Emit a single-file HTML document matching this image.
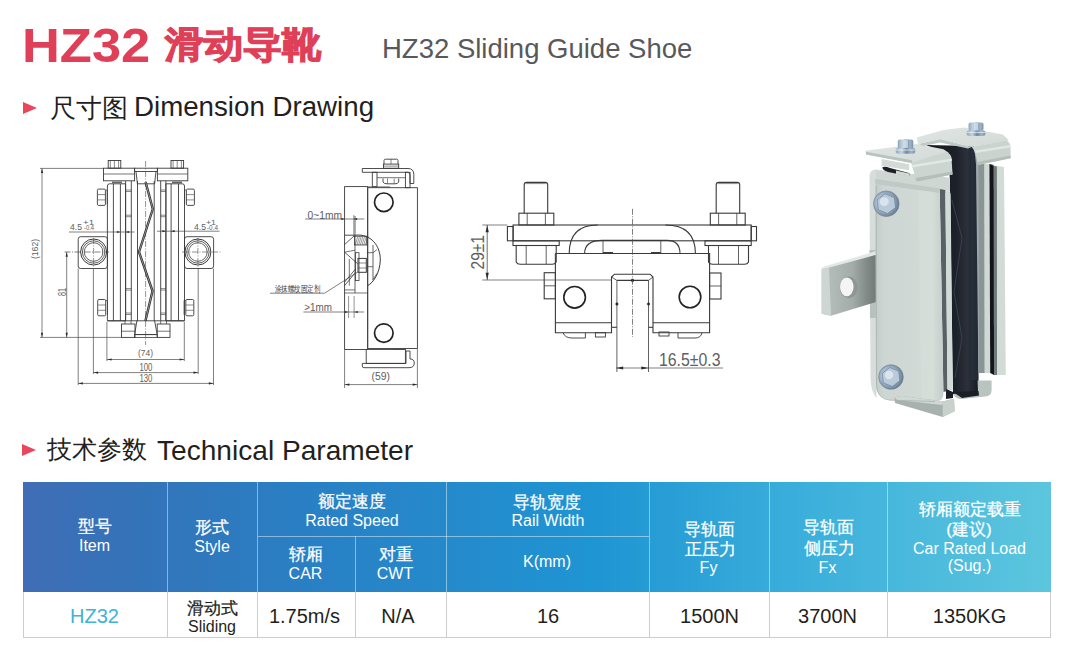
<!DOCTYPE html>
<html><head><meta charset="utf-8">
<style>
html,body{margin:0;padding:0;background:#fff;}
body{width:1073px;height:650px;position:relative;overflow:hidden;font-family:"Liberation Sans",sans-serif;}
.a{position:absolute;white-space:nowrap;line-height:1;}
.tri{position:absolute;width:0;height:0;border-top:6.5px solid transparent;border-bottom:6.5px solid transparent;border-left:14px solid #e8475c;}
#thead{position:absolute;left:23px;top:482px;width:1028px;height:110px;
 background:linear-gradient(90deg,#3f6db6 0%,#3374b9 12%,#2a7fc4 27%,#1f95d3 56%,#3aaedb 75%,#5dc6de 100%);}
.vl{position:absolute;width:1px;background:rgba(255,255,255,0.45);}
.hl{position:absolute;height:1px;background:rgba(255,255,255,0.45);}
.c{position:absolute;text-align:center;color:#fff;line-height:1;}
.cj{font-size:16px;}
.en{font-size:15px;}
.gl{position:absolute;background:#cdcdcd;}
.L{position:absolute;text-align:center;white-space:nowrap;line-height:1;}
.cell{position:absolute;text-align:center;color:#231f20;font-size:20px;line-height:1;}
</style></head><body>

<div class="a" style="left:21.5px;top:21px;font-size:49px;font-weight:bold;color:#df4058;transform:scaleX(1.07);transform-origin:0 0">HZ32</div>
<div class="a" style="left:165px;top:24.5px;font-size:39px;font-weight:700;color:#df4058;-webkit-text-stroke:1.3px #df4058;transform:scaleY(0.92);transform-origin:0 50%;">滑动导靴</div>
<div class="a" style="left:382px;top:35.3px;font-size:27.5px;color:#58595b;">HZ32 Sliding Guide Shoe</div>

<div class="tri" style="left:23px;top:102px;"></div>
<div class="a" style="left:49.5px;top:94.5px;font-size:26px;color:#231f20;">尺寸图</div>
<div class="a" style="left:134px;top:92.5px;font-size:27.7px;color:#231f20;">Dimension Drawing</div>

<div class="tri" style="left:22px;top:444px;"></div>
<div class="a" style="left:47px;top:437px;font-size:25.3px;color:#231f20;">技术参数</div>
<div class="a" style="left:157px;top:436.5px;font-size:28.1px;color:#231f20;">Technical Parameter</div>

<!-- table header -->
<div id="thead">
  <div class="vl" style="left:144px;top:0;height:110px"></div>
  <div class="vl" style="left:234px;top:0;height:110px"></div>
  <div class="vl" style="left:423px;top:0;height:110px"></div>
  <div class="vl" style="left:626px;top:0;height:110px"></div>
  <div class="vl" style="left:746px;top:0;height:110px"></div>
  <div class="vl" style="left:864px;top:0;height:110px"></div>
  <div class="vl" style="left:332px;top:54px;height:56px"></div>
  <div class="hl" style="left:235px;top:54px;width:391px"></div>
</div>
<!--TL-->
<div class="L" style="left:23.0px;top:518.0px;width:144px;font-size:17px;color:#fff;font-weight:500;-webkit-text-stroke:0.25px #fff">型号</div>
<div class="L" style="left:22.5px;top:538.0px;width:144px;font-size:16px;color:#fff;font-weight:400">Item</div>
<div class="L" style="left:167.0px;top:518.5px;width:89px;font-size:17px;color:#fff;font-weight:500;-webkit-text-stroke:0.25px #fff">形式</div>
<div class="L" style="left:167.5px;top:539.0px;width:89px;font-size:16px;color:#fff;font-weight:400">Style</div>
<div class="L" style="left:257.5px;top:493.0px;width:188px;font-size:17px;color:#fff;font-weight:500;-webkit-text-stroke:0.25px #fff">额定速度</div>
<div class="L" style="left:258.0px;top:513.0px;width:188px;font-size:16px;color:#fff;font-weight:400">Rated Speed</div>
<div class="L" style="left:257.0px;top:546.0px;width:97px;font-size:17px;color:#fff;font-weight:500;-webkit-text-stroke:0.25px #fff">轿厢</div>
<div class="L" style="left:257.0px;top:565.5px;width:97px;font-size:16px;color:#fff;font-weight:400">CAR</div>
<div class="L" style="left:350.5px;top:545.5px;width:90px;font-size:17px;color:#fff;font-weight:500;-webkit-text-stroke:0.25px #fff">对重</div>
<div class="L" style="left:350.0px;top:565.5px;width:90px;font-size:16px;color:#fff;font-weight:400">CWT</div>
<div class="L" style="left:446.0px;top:493.5px;width:202px;font-size:17px;color:#fff;font-weight:500;-webkit-text-stroke:0.25px #fff">导轨宽度</div>
<div class="L" style="left:447.0px;top:513.0px;width:202px;font-size:16px;color:#fff;font-weight:400">Rail Width</div>
<div class="L" style="left:446.0px;top:554.0px;width:202px;font-size:16px;color:#fff;font-weight:400">K(mm)</div>
<div class="L" style="left:649.5px;top:520.5px;width:119px;font-size:17px;color:#fff;font-weight:500;-webkit-text-stroke:0.25px #fff">导轨面</div>
<div class="L" style="left:650.5px;top:541.0px;width:119px;font-size:17px;color:#fff;font-weight:500;-webkit-text-stroke:0.25px #fff">正压力</div>
<div class="L" style="left:649.0px;top:560.0px;width:119px;font-size:16px;color:#fff;font-weight:400">Fy</div>
<div class="L" style="left:769.5px;top:519.0px;width:117px;font-size:17px;color:#fff;font-weight:500;-webkit-text-stroke:0.25px #fff">导轨面</div>
<div class="L" style="left:771.0px;top:540.0px;width:117px;font-size:17px;color:#fff;font-weight:500;-webkit-text-stroke:0.25px #fff">侧压力</div>
<div class="L" style="left:769.0px;top:560.0px;width:117px;font-size:16px;color:#fff;font-weight:400">Fx</div>
<div class="L" style="left:888.5px;top:500.5px;width:162px;font-size:17px;color:#fff;font-weight:500;-webkit-text-stroke:0.25px #fff">轿厢额定载重</div>
<div class="L" style="left:888.0px;top:521.0px;width:162px;font-size:17px;color:#fff;font-weight:500;-webkit-text-stroke:0.25px #fff">(建议)</div>
<div class="L" style="left:888.5px;top:541.0px;width:162px;font-size:16px;color:#fff;font-weight:400">Car Rated Load</div>
<div class="L" style="left:888.5px;top:558.0px;width:162px;font-size:16px;color:#fff;font-weight:400">(Sug.)</div>
<div class="L" style="left:22.5px;top:605.5px;width:144px;font-size:20px;color:#3fb3d8;font-weight:400">HZ32</div>
<div class="L" style="left:168.0px;top:599.5px;width:89px;font-size:17px;color:#231f20;font-weight:500;-webkit-text-stroke:0.25px #231f20">滑动式</div>
<div class="L" style="left:167.5px;top:618.5px;width:89px;font-size:16px;color:#231f20;font-weight:400">Sliding</div>
<div class="L" style="left:256.0px;top:606.0px;width:97px;font-size:20px;color:#231f20;font-weight:400">1.75m/s</div>
<div class="L" style="left:353.0px;top:606.0px;width:90px;font-size:20px;color:#231f20;font-weight:400">N/A</div>
<div class="L" style="left:447.0px;top:605.5px;width:202px;font-size:20px;color:#231f20;font-weight:400">16</div>
<div class="L" style="left:650.0px;top:605.5px;width:119px;font-size:20px;color:#231f20;font-weight:400">1500N</div>
<div class="L" style="left:769.0px;top:605.5px;width:117px;font-size:20px;color:#231f20;font-weight:400">3700N</div>
<div class="L" style="left:888.5px;top:605.5px;width:162px;font-size:20px;color:#231f20;font-weight:400">1350KG</div>
<!--/TL-->
<!-- body row grid -->
<div class="gl" style="left:23px;top:592px;width:1px;height:46px"></div>
<div class="gl" style="left:167px;top:592px;width:1px;height:46px"></div>
<div class="gl" style="left:257px;top:592px;width:1px;height:46px"></div>
<div class="gl" style="left:355px;top:592px;width:1px;height:46px"></div>
<div class="gl" style="left:446px;top:592px;width:1px;height:46px"></div>
<div class="gl" style="left:649px;top:592px;width:1px;height:46px"></div>
<div class="gl" style="left:769px;top:592px;width:1px;height:46px"></div>
<div class="gl" style="left:887px;top:592px;width:1px;height:46px"></div>
<div class="gl" style="left:1050px;top:592px;width:1px;height:46px"></div>
<div class="gl" style="left:23px;top:637px;width:1028px;height:1px"></div>

<!-- DRAWINGS -->
<svg id="d" style="position:absolute;left:0;top:0;font-family:'Liberation Sans',sans-serif" width="1073" height="650" viewBox="0 0 1073 650">
<line x1="40" y1="168.4" x2="103.5" y2="168.4" stroke="#4a4a4a" stroke-width="0.7" />
<line x1="40" y1="337.4" x2="121.5" y2="337.4" stroke="#4a4a4a" stroke-width="0.7" />
<line x1="42" y1="168.4" x2="42" y2="337.4" stroke="#4a4a4a" stroke-width="0.7" />
<path d="M42,168.6 L40.9,173.1 L43.1,173.1 Z" fill="#2a2a2a" stroke="none"/>
<path d="M42,337.2 L40.9,332.7 L43.1,332.7 Z" fill="#2a2a2a" stroke="none"/>
<text x="38" y="249" font-size="9.6" text-anchor="middle" fill="#606060" transform="rotate(-90 38 249)" textLength="20" lengthAdjust="spacingAndGlyphs" >(162)</text>
<line x1="64.5" y1="252" x2="109" y2="252" stroke="#4a4a4a" stroke-width="0.7" stroke-dasharray="6,1.5,1,1.5"/>
<line x1="66.7" y1="252" x2="66.7" y2="337.4" stroke="#4a4a4a" stroke-width="0.7" />
<path d="M66.7,252.2 L65.60000000000001,256.7 L67.8,256.7 Z" fill="#2a2a2a" stroke="none"/>
<path d="M66.7,337.2 L65.60000000000001,332.7 L67.8,332.7 Z" fill="#2a2a2a" stroke="none"/>
<text x="66" y="292" font-size="10" text-anchor="middle" fill="#606060" transform="rotate(-90 66 292)" textLength="8" lengthAdjust="spacingAndGlyphs" >81</text>
<line x1="69" y1="232" x2="134.6" y2="232" stroke="#4a4a4a" stroke-width="0.7" />
<path d="M120.4,232 L116.9,230.9 L116.9,233.1 Z" fill="#2a2a2a" stroke="none"/>
<path d="M125.6,232 L129.1,230.9 L129.1,233.1 Z" fill="#2a2a2a" stroke="none"/>
<line x1="157" y1="231.2" x2="219.6" y2="231.2" stroke="#4a4a4a" stroke-width="0.7" />
<path d="M165.9,231.2 L162.4,230.1 L162.4,232.29999999999998 Z" fill="#2a2a2a" stroke="none"/>
<path d="M171.1,231.2 L174.6,230.1 L174.6,232.29999999999998 Z" fill="#2a2a2a" stroke="none"/>
<text x="70" y="230" font-size="8.5" text-anchor="start" fill="#606060" textLength="12" lengthAdjust="spacingAndGlyphs" >4.5</text>
<text x="83" y="225" font-size="8" text-anchor="start" fill="#606060" textLength="11" lengthAdjust="spacingAndGlyphs" >+1</text>
<text x="84" y="230.4" font-size="6.3" text-anchor="start" fill="#606060" textLength="10" lengthAdjust="spacingAndGlyphs" >-0.4</text>
<text x="194" y="229.5" font-size="8.5" text-anchor="start" fill="#606060" textLength="12" lengthAdjust="spacingAndGlyphs" >4.5</text>
<text x="206" y="224.5" font-size="8" text-anchor="start" fill="#606060" textLength="10" lengthAdjust="spacingAndGlyphs" >+1</text>
<text x="207" y="230" font-size="6.3" text-anchor="start" fill="#606060" textLength="11" lengthAdjust="spacingAndGlyphs" >-0.4</text>
<line x1="106.9" y1="322" x2="106.9" y2="361" stroke="#4a4a4a" stroke-width="0.7" />
<line x1="184.3" y1="322" x2="184.3" y2="361" stroke="#4a4a4a" stroke-width="0.7" />
<line x1="106.9" y1="359.5" x2="184.3" y2="359.5" stroke="#4a4a4a" stroke-width="0.7" />
<path d="M107.1,359.5 L111.6,358.4 L111.6,360.6 Z" fill="#2a2a2a" stroke="none"/>
<path d="M184.1,359.5 L179.6,358.4 L179.6,360.6 Z" fill="#2a2a2a" stroke="none"/>
<text x="145.5" y="355.5" font-size="9.8" text-anchor="middle" fill="#606060" textLength="15" lengthAdjust="spacingAndGlyphs" >(74)</text>
<line x1="93.4" y1="268.5" x2="93.4" y2="374" stroke="#4a4a4a" stroke-width="0.7" />
<line x1="198.2" y1="268.5" x2="198.2" y2="374" stroke="#4a4a4a" stroke-width="0.7" />
<line x1="93.4" y1="372.6" x2="198.2" y2="372.6" stroke="#4a4a4a" stroke-width="0.7" />
<path d="M93.6,372.6 L98.1,371.5 L98.1,373.70000000000005 Z" fill="#2a2a2a" stroke="none"/>
<path d="M198,372.6 L193.5,371.5 L193.5,373.70000000000005 Z" fill="#2a2a2a" stroke="none"/>
<text x="145.9" y="371" font-size="10" text-anchor="middle" fill="#606060" textLength="13" lengthAdjust="spacingAndGlyphs" >100</text>
<line x1="78.2" y1="268.5" x2="78.2" y2="385" stroke="#4a4a4a" stroke-width="0.7" />
<line x1="213.5" y1="268.5" x2="213.5" y2="385" stroke="#4a4a4a" stroke-width="0.7" />
<line x1="78.2" y1="383.4" x2="213.5" y2="383.4" stroke="#4a4a4a" stroke-width="0.7" />
<path d="M78.4,383.4 L82.9,382.29999999999995 L82.9,384.5 Z" fill="#2a2a2a" stroke="none"/>
<path d="M213.3,383.4 L208.8,382.29999999999995 L208.8,384.5 Z" fill="#2a2a2a" stroke="none"/>
<text x="145.9" y="382.4" font-size="10" text-anchor="middle" fill="#606060" textLength="13" lengthAdjust="spacingAndGlyphs" >130</text>
<rect x="108.2" y="160.5" width="12.6" height="7.7" rx="0" fill="none" stroke="#3a3a3a" stroke-width="0.9"/>
<line x1="110.3" y1="160.5" x2="110.3" y2="168.2" stroke="#3a3a3a" stroke-width="0.6" />
<line x1="114.4" y1="160.5" x2="114.4" y2="168.2" stroke="#3a3a3a" stroke-width="0.6" />
<line x1="118.60000000000001" y1="160.5" x2="118.60000000000001" y2="168.2" stroke="#3a3a3a" stroke-width="0.6" />
<rect x="171" y="160.5" width="12.6" height="7.7" rx="0" fill="none" stroke="#3a3a3a" stroke-width="0.9"/>
<line x1="173.1" y1="160.5" x2="173.1" y2="168.2" stroke="#3a3a3a" stroke-width="0.6" />
<line x1="177.2" y1="160.5" x2="177.2" y2="168.2" stroke="#3a3a3a" stroke-width="0.6" />
<line x1="181.4" y1="160.5" x2="181.4" y2="168.2" stroke="#3a3a3a" stroke-width="0.6" />
<rect x="103.5" y="168.2" width="31.1" height="12.6" rx="0" fill="none" stroke="#3a3a3a" stroke-width="0.9"/>
<line x1="103.5" y1="174" x2="134.6" y2="174" stroke="#3a3a3a" stroke-width="0.7" />
<rect x="157.4" y="168.2" width="30.4" height="12.6" rx="0" fill="none" stroke="#3a3a3a" stroke-width="0.9"/>
<line x1="157.4" y1="174" x2="187.8" y2="174" stroke="#3a3a3a" stroke-width="0.7" />
<rect x="134.6" y="168.2" width="22.8" height="3.3" rx="0" fill="none" stroke="#3a3a3a" stroke-width="0.9"/>
<path d="M136,171.5 L137.4,183.8 L154.6,183.8 L156,171.5" fill="none" stroke="#3a3a3a" stroke-width="0.9" />
<line x1="112" y1="182.3" x2="122" y2="182.3" stroke="#666" stroke-width="1.6" />
<line x1="172" y1="182.3" x2="182" y2="182.3" stroke="#666" stroke-width="1.6" />
<path d="M107.4,320.8 L107.4,186 Q107.4,183.8 109.6,183.8 L120.4,183.8 L120.4,320.8 Z" fill="none" stroke="#3a3a3a" stroke-width="0.9" />
<line x1="113.4" y1="183.8" x2="113.4" y2="320.8" stroke="#3a3a3a" stroke-width="0.9" />
<path d="M120.4,183.8 L125.6,183.8 L125.6,320.8 L120.4,320.8" fill="none" stroke="#3a3a3a" stroke-width="0.9" />
<line x1="131.3" y1="181" x2="131.3" y2="320.8" stroke="#3a3a3a" stroke-width="0.9" />
<line x1="137.5" y1="181" x2="137.5" y2="320.8" stroke="#3a3a3a" stroke-width="0.9" />
<line x1="125.6" y1="181" x2="125.6" y2="320.8" stroke="#3a3a3a" stroke-width="0.9" />
<path d="M184.5,320.8 L184.5,186 Q184.5,183.8 182.3,183.8 L171.1,183.8 L171.1,320.8 Z" fill="none" stroke="#3a3a3a" stroke-width="0.9" />
<line x1="178.5" y1="183.8" x2="178.5" y2="320.8" stroke="#3a3a3a" stroke-width="0.9" />
<path d="M171.1,183.8 L165.9,183.8 L165.9,320.8 L171.1,320.8" fill="none" stroke="#3a3a3a" stroke-width="0.9" />
<line x1="160.7" y1="181" x2="160.7" y2="320.8" stroke="#3a3a3a" stroke-width="0.9" />
<line x1="154.2" y1="181" x2="154.2" y2="320.8" stroke="#3a3a3a" stroke-width="0.9" />
<line x1="165.9" y1="181" x2="165.9" y2="320.8" stroke="#3a3a3a" stroke-width="0.9" />
<line x1="125.6" y1="190" x2="131.3" y2="190" stroke="#3a3a3a" stroke-width="0.6" />
<line x1="160.7" y1="190" x2="165.9" y2="190" stroke="#3a3a3a" stroke-width="0.6" />
<line x1="125.6" y1="191.5" x2="131.3" y2="191.5" stroke="#3a3a3a" stroke-width="0.6" />
<line x1="160.7" y1="191.5" x2="165.9" y2="191.5" stroke="#3a3a3a" stroke-width="0.6" />
<line x1="125.6" y1="215.2" x2="131.3" y2="215.2" stroke="#3a3a3a" stroke-width="0.6" />
<line x1="160.7" y1="215.2" x2="165.9" y2="215.2" stroke="#3a3a3a" stroke-width="0.6" />
<line x1="125.6" y1="216.7" x2="131.3" y2="216.7" stroke="#3a3a3a" stroke-width="0.6" />
<line x1="160.7" y1="216.7" x2="165.9" y2="216.7" stroke="#3a3a3a" stroke-width="0.6" />
<line x1="125.6" y1="288.6" x2="131.3" y2="288.6" stroke="#3a3a3a" stroke-width="0.6" />
<line x1="160.7" y1="288.6" x2="165.9" y2="288.6" stroke="#3a3a3a" stroke-width="0.6" />
<line x1="125.6" y1="290.1" x2="131.3" y2="290.1" stroke="#3a3a3a" stroke-width="0.6" />
<line x1="160.7" y1="290.1" x2="165.9" y2="290.1" stroke="#3a3a3a" stroke-width="0.6" />
<line x1="125.6" y1="313" x2="131.3" y2="313" stroke="#3a3a3a" stroke-width="0.6" />
<line x1="160.7" y1="313" x2="165.9" y2="313" stroke="#3a3a3a" stroke-width="0.6" />
<line x1="125.6" y1="314.5" x2="131.3" y2="314.5" stroke="#3a3a3a" stroke-width="0.6" />
<line x1="160.7" y1="314.5" x2="165.9" y2="314.5" stroke="#3a3a3a" stroke-width="0.6" />
<line x1="107.4" y1="320.8" x2="137.5" y2="320.8" stroke="#3a3a3a" stroke-width="0.9" />
<line x1="154.2" y1="320.8" x2="184.5" y2="320.8" stroke="#3a3a3a" stroke-width="0.9" />
<rect x="97.4" y="189.1" width="8.0" height="16.3" rx="1.2" fill="none" stroke="#3a3a3a" stroke-width="0.9"/>
<line x1="105.4" y1="190.1" x2="107.2" y2="190.1" stroke="#3a3a3a" stroke-width="0.7" />
<line x1="107.2" y1="190.1" x2="107.2" y2="204.4" stroke="#3a3a3a" stroke-width="0.7" />
<line x1="97.9" y1="194.6" x2="105.4" y2="194.6" stroke="#3a3a3a" stroke-width="0.6" />
<line x1="97.9" y1="199.9" x2="105.4" y2="199.9" stroke="#3a3a3a" stroke-width="0.6" />
<rect x="97.7" y="299.5" width="8.0" height="16.3" rx="1.2" fill="none" stroke="#3a3a3a" stroke-width="0.9"/>
<line x1="105.7" y1="300.5" x2="107.5" y2="300.5" stroke="#3a3a3a" stroke-width="0.7" />
<line x1="107.5" y1="300.5" x2="107.5" y2="314.8" stroke="#3a3a3a" stroke-width="0.7" />
<line x1="98.2" y1="305.0" x2="105.7" y2="305.0" stroke="#3a3a3a" stroke-width="0.6" />
<line x1="98.2" y1="310.3" x2="105.7" y2="310.3" stroke="#3a3a3a" stroke-width="0.6" />
<rect x="186.4" y="189.1" width="8.0" height="16.3" rx="1.2" fill="none" stroke="#3a3a3a" stroke-width="0.9"/>
<line x1="186.4" y1="190.1" x2="184.6" y2="190.1" stroke="#3a3a3a" stroke-width="0.7" />
<line x1="184.6" y1="190.1" x2="184.6" y2="204.4" stroke="#3a3a3a" stroke-width="0.7" />
<line x1="186.4" y1="194.6" x2="193.9" y2="194.6" stroke="#3a3a3a" stroke-width="0.6" />
<line x1="186.4" y1="199.9" x2="193.9" y2="199.9" stroke="#3a3a3a" stroke-width="0.6" />
<rect x="185.8" y="299.5" width="8.0" height="16.3" rx="1.2" fill="none" stroke="#3a3a3a" stroke-width="0.9"/>
<line x1="185.8" y1="300.5" x2="184.0" y2="300.5" stroke="#3a3a3a" stroke-width="0.7" />
<line x1="184.0" y1="300.5" x2="184.0" y2="314.8" stroke="#3a3a3a" stroke-width="0.7" />
<line x1="185.8" y1="305.0" x2="193.3" y2="305.0" stroke="#3a3a3a" stroke-width="0.6" />
<line x1="185.8" y1="310.3" x2="193.3" y2="310.3" stroke="#3a3a3a" stroke-width="0.6" />
<rect x="78.2" y="236.7" width="29.2" height="31.8" rx="2.5" fill="none" stroke="#3a3a3a" stroke-width="0.9"/>
<rect x="184.5" y="236.7" width="29.1" height="31.8" rx="2.5" fill="none" stroke="#3a3a3a" stroke-width="0.9"/>
<circle cx="93.6" cy="252" r="13" fill="none" stroke="#3a3a3a" stroke-width="1.0"/>
<circle cx="93.6" cy="252" r="11.2" fill="none" stroke="#3a3a3a" stroke-width="0.8"/>
<circle cx="93.6" cy="252" r="9.3" fill="none" stroke="#3a3a3a" stroke-width="0.8"/>
<line x1="93.6" y1="238" x2="93.6" y2="268.5" stroke="#4a4a4a" stroke-width="0.6" stroke-dasharray="6,1.5,1,1.5"/>
<circle cx="197.9" cy="252" r="13" fill="none" stroke="#3a3a3a" stroke-width="1.0"/>
<circle cx="197.9" cy="252" r="11.2" fill="none" stroke="#3a3a3a" stroke-width="0.8"/>
<circle cx="197.9" cy="252" r="9.3" fill="none" stroke="#3a3a3a" stroke-width="0.8"/>
<line x1="197.9" y1="238" x2="197.9" y2="268.5" stroke="#4a4a4a" stroke-width="0.6" stroke-dasharray="6,1.5,1,1.5"/>
<line x1="182" y1="252" x2="222" y2="252" stroke="#4a4a4a" stroke-width="0.6" stroke-dasharray="6,1.5,1,1.5"/>
<line x1="145.6" y1="161" x2="145.6" y2="345" stroke="#4a4a4a" stroke-width="0.6" stroke-dasharray="6,1.5,1,1.5"/>
<path d="M145.6,182 L152.8,209 L139,252 L152.5,291 L145.4,321" fill="none" stroke="#2a2a2a" stroke-width="2.4" stroke-linejoin="round"/>
<path d="M145.6,182 L152.8,209 L139,252 L152.5,291 L145.4,321" fill="none" stroke="#bbb" stroke-width="0.7" stroke-linejoin="round"/>
<rect x="121.5" y="324" width="13.5" height="13.4" rx="0" fill="none" stroke="#3a3a3a" stroke-width="0.9"/>
<line x1="121.5" y1="331.2" x2="135" y2="331.2" stroke="#3a3a3a" stroke-width="0.7" />
<rect x="157.2" y="324" width="12.8" height="13.4" rx="0" fill="none" stroke="#3a3a3a" stroke-width="0.9"/>
<line x1="157.2" y1="331.2" x2="170" y2="331.2" stroke="#3a3a3a" stroke-width="0.7" />
<path d="M136.9,320.8 L154.6,320.8 L157.2,334.6 L134.6,334.6 Z" fill="none" stroke="#3a3a3a" stroke-width="0.9" />
<rect x="134.6" y="334.6" width="22.6" height="2.8" rx="0" fill="none" stroke="#3a3a3a" stroke-width="0.8"/>
<line x1="125" y1="320.8" x2="125" y2="324" stroke="#3a3a3a" stroke-width="0.7" />
<line x1="131" y1="320.8" x2="131" y2="324" stroke="#3a3a3a" stroke-width="0.7" />
<line x1="160.7" y1="320.8" x2="160.7" y2="324" stroke="#3a3a3a" stroke-width="0.7" />
<line x1="166.5" y1="320.8" x2="166.5" y2="324" stroke="#3a3a3a" stroke-width="0.7" />
<rect x="344.6" y="186.6" width="23.1" height="162.9" rx="0" fill="none" stroke="#3a3a3a" stroke-width="0.9"/>
<rect x="367.7" y="187.7" width="49.7" height="160.8" rx="0" fill="none" stroke="#3a3a3a" stroke-width="0.9"/>
<path d="M362.3,168.5 L408,168.5 Q413.8,168.5 413.8,174.5 L413.8,183.5 L410,183.5 L410,175 Q410,172.3 407.5,172.3 L362.3,172.3 Z" fill="none" stroke="#3a3a3a" stroke-width="0.9" />
<rect x="372.3" y="172.3" width="4.7" height="14.3" rx="0" fill="none" stroke="#3a3a3a" stroke-width="0.9"/>
<rect x="405.4" y="172.3" width="4.6" height="15.4" rx="0" fill="none" stroke="#3a3a3a" stroke-width="0.9"/>
<line x1="377" y1="177.7" x2="405.4" y2="177.7" stroke="#3a3a3a" stroke-width="0.7" />
<path d="M383,178.5 L383,182 Q384,183.8 387,183.8 L395,183.8 Q398,183.8 398.7,182 L398.7,178.5" fill="none" stroke="#3a3a3a" stroke-width="0.9" />
<line x1="387.5" y1="178.5" x2="387.5" y2="183.5" stroke="#3a3a3a" stroke-width="0.6" />
<line x1="394.2" y1="178.5" x2="394.2" y2="183.5" stroke="#3a3a3a" stroke-width="0.6" />
<path d="M384,164.1 L384,160.5 Q384,159.2 385.5,159.2 L396.5,159.2 Q398,159.2 398,160.5 L398,164.1" fill="none" stroke="#3a3a3a" stroke-width="0.9" />
<line x1="391" y1="159.2" x2="391" y2="164.1" stroke="#3a3a3a" stroke-width="0.6" />
<rect x="383.5" y="164.1" width="15.2" height="4.1" rx="0" fill="none" stroke="#3a3a3a" stroke-width="0.9"/>
<line x1="383.5" y1="166.1" x2="398.7" y2="166.1" stroke="#3a3a3a" stroke-width="0.6" />
<circle cx="383.8" cy="202.3" r="9.3" fill="none" stroke="#222" stroke-width="1.7"/>
<circle cx="383.8" cy="333.1" r="9.3" fill="none" stroke="#222" stroke-width="1.7"/>
<rect x="366.2" y="349.5" width="39.2" height="13.9" rx="0" fill="none" stroke="#3a3a3a" stroke-width="0.9"/>
<path d="M362.3,363.4 L406,363.4 L406,351 L410,351 L410,359 Q414.3,359 414.3,363 Q414.3,367.7 409,367.7 L364,367.7 Q362.3,367.7 362.3,366 Z" fill="none" stroke="#3a3a3a" stroke-width="0.9" />
<line x1="367.7" y1="349.2" x2="393" y2="349.2" stroke="#555" stroke-width="1.4" />
<line x1="367.7" y1="187.2" x2="390" y2="187.2" stroke="#555" stroke-width="1.4" />
<line x1="355" y1="216" x2="355" y2="293" stroke="#3a3a3a" stroke-width="0.8" />
<line x1="344.6" y1="235.2" x2="355.5" y2="235.2" stroke="#3a3a3a" stroke-width="0.9" />
<path d="M355.5,235.2 C371,233.5 380.5,246 380.3,260 C380,273 373,283 367.8,285.5" fill="none" stroke="#3a3a3a" stroke-width="1.0" />
<line x1="344.6" y1="244.5" x2="354.4" y2="235.7" stroke="#3a3a3a" stroke-width="0.8" />
<line x1="344.6" y1="252.2" x2="355" y2="250.2" stroke="#3a3a3a" stroke-width="0.7" />
<line x1="344.6" y1="252.2" x2="357.5" y2="263.6" stroke="#3a3a3a" stroke-width="0.8" />
<rect x="354.4" y="236.2" width="12.4" height="8.8" rx="0" fill="none" stroke="#3a3a3a" stroke-width="0.8"/>
<line x1="355.2" y1="245" x2="357.8" y2="236.5" stroke="#3a3a3a" stroke-width="0.5" />
<line x1="356.9" y1="245" x2="359.5" y2="236.5" stroke="#3a3a3a" stroke-width="0.5" />
<line x1="358.59999999999997" y1="245" x2="361.2" y2="236.5" stroke="#3a3a3a" stroke-width="0.5" />
<line x1="360.3" y1="245" x2="362.90000000000003" y2="236.5" stroke="#3a3a3a" stroke-width="0.5" />
<line x1="362.0" y1="245" x2="364.6" y2="236.5" stroke="#3a3a3a" stroke-width="0.5" />
<line x1="363.7" y1="245" x2="366.3" y2="236.5" stroke="#3a3a3a" stroke-width="0.5" />
<line x1="365.4" y1="245" x2="368.0" y2="236.5" stroke="#3a3a3a" stroke-width="0.5" />
<line x1="373" y1="245" x2="373" y2="280" stroke="#3a3a3a" stroke-width="0.8" />
<line x1="366.8" y1="252.7" x2="373" y2="252.7" stroke="#3a3a3a" stroke-width="0.7" />
<line x1="366.8" y1="266.7" x2="373" y2="266.7" stroke="#3a3a3a" stroke-width="0.7" />
<line x1="373" y1="252.7" x2="377" y2="249.6" stroke="#3a3a3a" stroke-width="0.7" />
<line x1="373" y1="279.5" x2="377" y2="273.4" stroke="#3a3a3a" stroke-width="0.7" />
<rect x="358" y="258.4" width="8.3" height="13.9" rx="0" fill="none" stroke="#3a3a3a" stroke-width="1.0"/>
<line x1="358" y1="263" x2="366.3" y2="263" stroke="#3a3a3a" stroke-width="0.6" />
<line x1="358" y1="268" x2="366.3" y2="268" stroke="#3a3a3a" stroke-width="0.6" />
<rect x="355.5" y="252.7" width="3.5" height="27.9" rx="0" fill="none" stroke="#3a3a3a" stroke-width="0.8"/>
<line x1="344.6" y1="285.7" x2="355.5" y2="272.3" stroke="#3a3a3a" stroke-width="0.8" />
<line x1="344.6" y1="282" x2="355.5" y2="269" stroke="#3a3a3a" stroke-width="0.8" />
<line x1="349.3" y1="258.9" x2="349.3" y2="285.7" stroke="#3a3a3a" stroke-width="0.7" />
<line x1="344.6" y1="289.9" x2="355" y2="289.9" stroke="#3a3a3a" stroke-width="0.7" />
<line x1="344.6" y1="293" x2="367.7" y2="293" stroke="#3a3a3a" stroke-width="0.7" />
<text x="324.85" y="218.5" font-size="11.8" text-anchor="middle" fill="#606060" textLength="34.5" lengthAdjust="spacingAndGlyphs" >0~1mm</text>
<line x1="305.2" y1="219" x2="364.3" y2="219" stroke="#4a4a4a" stroke-width="0.7" />
<line x1="353.8" y1="215" x2="353.8" y2="236" stroke="#4a4a4a" stroke-width="0.6" />
<path d="M344.8,219 L341.3,217.9 L341.3,220.1 Z" fill="#2a2a2a" stroke="none"/>
<path d="M353.6,219 L357.1,217.9 L357.1,220.1 Z" fill="#2a2a2a" stroke="none"/>
<text x="297.4" y="291.5" font-size="8.5" text-anchor="middle" fill="#333" textLength="45.2" lengthAdjust="spacingAndGlyphs" >涂抹螺纹固定剂</text>
<line x1="270" y1="293.2" x2="324.6" y2="293.2" stroke="#4a4a4a" stroke-width="0.7" />
<line x1="324.6" y1="293.2" x2="357.8" y2="272" stroke="#4a4a4a" stroke-width="0.7" />
<text x="318.15" y="310.7" font-size="11.8" text-anchor="middle" fill="#606060" textLength="27.7" lengthAdjust="spacingAndGlyphs" >&gt;1mm</text>
<line x1="303.4" y1="312" x2="364" y2="312" stroke="#4a4a4a" stroke-width="0.7" />
<line x1="348.6" y1="296" x2="348.6" y2="318" stroke="#4a4a4a" stroke-width="0.6" />
<line x1="354.1" y1="296" x2="354.1" y2="318" stroke="#4a4a4a" stroke-width="0.6" />
<path d="M348.4,312 L344.9,310.9 L344.9,313.1 Z" fill="#2a2a2a" stroke="none"/>
<path d="M354.3,312 L357.8,310.9 L357.8,313.1 Z" fill="#2a2a2a" stroke="none"/>
<line x1="344.6" y1="350" x2="344.6" y2="388" stroke="#4a4a4a" stroke-width="0.7" />
<line x1="417.4" y1="349" x2="417.4" y2="388" stroke="#4a4a4a" stroke-width="0.7" />
<line x1="344.6" y1="384.6" x2="417.4" y2="384.6" stroke="#4a4a4a" stroke-width="0.7" />
<path d="M344.8,384.6 L349.3,383.5 L349.3,385.70000000000005 Z" fill="#2a2a2a" stroke="none"/>
<path d="M417.2,384.6 L412.7,383.5 L412.7,385.70000000000005 Z" fill="#2a2a2a" stroke="none"/>
<text x="380.75" y="379.9" font-size="11.5" text-anchor="middle" fill="#606060" textLength="18.5" lengthAdjust="spacingAndGlyphs" >(59)</text>
<path d="M524.2,213.2 L524.2,185 Q524.2,182.4 526.7,182.4 L545.2,182.4 Q547.7,182.4 547.7,185 L547.7,213.2" fill="none" stroke="#3a3a3a" stroke-width="1.1" />
<line x1="526.2" y1="183.6" x2="545.7" y2="183.6" stroke="#3a3a3a" stroke-width="0.6" />
<path d="M716.2,213.2 L716.2,185 Q716.2,182.4 718.7,182.4 L737.2,182.4 Q739.7,182.4 739.7,185 L739.7,213.2" fill="none" stroke="#3a3a3a" stroke-width="1.1" />
<line x1="718.2" y1="183.6" x2="737.7" y2="183.6" stroke="#3a3a3a" stroke-width="0.6" />
<rect x="518.9" y="213.2" width="34.9" height="11.8" rx="0" fill="none" stroke="#3a3a3a" stroke-width="1.1"/>
<line x1="527.1999999999999" y1="213.2" x2="527.1999999999999" y2="225" stroke="#3a3a3a" stroke-width="0.8" />
<line x1="545.4" y1="213.2" x2="545.4" y2="225" stroke="#3a3a3a" stroke-width="0.8" />
<rect x="710.3" y="213.2" width="34.9" height="11.8" rx="0" fill="none" stroke="#3a3a3a" stroke-width="1.1"/>
<line x1="718.5999999999999" y1="213.2" x2="718.5999999999999" y2="225" stroke="#3a3a3a" stroke-width="0.8" />
<line x1="736.8" y1="213.2" x2="736.8" y2="225" stroke="#3a3a3a" stroke-width="0.8" />
<rect x="513.1" y="225" width="238.1" height="15.8" rx="0" fill="none" stroke="#3a3a3a" stroke-width="1.1"/>
<rect x="507.4" y="226.5" width="5.7" height="14.3" rx="0" fill="none" stroke="#3a3a3a" stroke-width="1.1"/>
<rect x="751.2" y="226.5" width="5.3" height="14.3" rx="0" fill="none" stroke="#3a3a3a" stroke-width="1.1"/>
<rect x="513" y="240.8" width="46.2" height="4.7" rx="0" fill="none" stroke="#3a3a3a" stroke-width="1.1"/>
<rect x="705" y="240.8" width="46.2" height="4.7" rx="0" fill="none" stroke="#3a3a3a" stroke-width="1.1"/>
<path d="M516.2,245.5 L516.2,262 Q517.2,264.2 520.2,264.2 L552.2,264.2 Q555.2,264.2 556.2,262 L556.2,245.5" fill="none" stroke="#3a3a3a" stroke-width="1.1" />
<line x1="526.2" y1="245.5" x2="526.2" y2="264.2" stroke="#3a3a3a" stroke-width="0.8" />
<line x1="546.2" y1="245.5" x2="546.2" y2="264.2" stroke="#3a3a3a" stroke-width="0.8" />
<path d="M708.5,245.5 L708.5,262 Q709.5,264.2 712.5,264.2 L744.5,264.2 Q747.5,264.2 748.5,262 L748.5,245.5" fill="none" stroke="#3a3a3a" stroke-width="1.1" />
<line x1="718.5" y1="245.5" x2="718.5" y2="264.2" stroke="#3a3a3a" stroke-width="0.8" />
<line x1="738.5" y1="245.5" x2="738.5" y2="264.2" stroke="#3a3a3a" stroke-width="0.8" />
<path d="M569.2,253.5 Q569.2,225 597.7,225" fill="none" stroke="#3a3a3a" stroke-width="1.1" />
<path d="M665.4,225 Q695.4,225 695.4,253.5" fill="none" stroke="#3a3a3a" stroke-width="1.1" />
<path d="M584.6,253.5 Q584.6,240.4 602.3,240.4 L667,240.4 Q680,240.4 680,253.5" fill="none" stroke="#3a3a3a" stroke-width="1.1" />
<line x1="603" y1="240.4" x2="603" y2="253.5" stroke="#3a3a3a" stroke-width="0.8" />
<line x1="660.8" y1="240.4" x2="660.8" y2="253.5" stroke="#3a3a3a" stroke-width="0.8" />
<line x1="603" y1="252.8" x2="613" y2="252.8" stroke="#3a3a3a" stroke-width="1.6" />
<line x1="651" y1="252.8" x2="660.8" y2="252.8" stroke="#3a3a3a" stroke-width="1.6" />
<path d="M555.4,253.5 L709.6,253.5 L709.6,332.7 L653,332.7 L653,327.3" fill="none" stroke="#3a3a3a" stroke-width="1.1" />
<path d="M611.5,327.3 L611.5,332.7 L555.4,332.7 L555.4,253.5" fill="none" stroke="#3a3a3a" stroke-width="1.1" />
<line x1="555.4" y1="322.7" x2="611.5" y2="322.7" stroke="#3a3a3a" stroke-width="1.1" />
<line x1="653" y1="322.7" x2="709.6" y2="322.7" stroke="#3a3a3a" stroke-width="1.1" />
<path d="M611.5,327.3 L611.5,277 L614.5,274.2 L650,274.2 L653,277 L653,327.3" fill="none" stroke="#3a3a3a" stroke-width="1.1" />
<line x1="611.5" y1="327.3" x2="616.9" y2="327.3" stroke="#3a3a3a" stroke-width="1.1" />
<line x1="648.5" y1="327.3" x2="653" y2="327.3" stroke="#3a3a3a" stroke-width="1.1" />
<line x1="611.5" y1="277" x2="616.9" y2="280.4" stroke="#3a3a3a" stroke-width="0.8" />
<line x1="653" y1="277" x2="648.5" y2="280.4" stroke="#3a3a3a" stroke-width="0.8" />
<line x1="616.9" y1="280.4" x2="648.5" y2="280.4" stroke="#3a3a3a" stroke-width="1.1" />
<line x1="616.9" y1="280.4" x2="616.9" y2="372" stroke="#3a3a3a" stroke-width="0.8" />
<line x1="648.5" y1="280.4" x2="648.5" y2="372" stroke="#3a3a3a" stroke-width="0.8" />
<circle cx="616.9" cy="304" r="1.2" fill="#222" stroke="#222" stroke-width="0.5"/>
<circle cx="648.5" cy="304" r="1.2" fill="#222" stroke="#222" stroke-width="0.5"/>
<circle cx="632.5" cy="280.4" r="1.3" fill="#222" stroke="#222" stroke-width="0.5"/>
<rect x="544.2" y="272.7" width="11.2" height="26.1" rx="0" fill="none" stroke="#3a3a3a" stroke-width="1.1"/>
<line x1="544.2" y1="285.8" x2="555.4" y2="285.8" stroke="#3a3a3a" stroke-width="0.8" />
<rect x="709.6" y="273" width="11.4" height="26" rx="0" fill="none" stroke="#3a3a3a" stroke-width="1.1"/>
<line x1="709.6" y1="286" x2="721" y2="286" stroke="#3a3a3a" stroke-width="0.8" />
<circle cx="574.6" cy="297.3" r="10.8" fill="none" stroke="#222" stroke-width="1.6"/>
<circle cx="690" cy="297" r="10.8" fill="none" stroke="#222" stroke-width="1.6"/>
<path d="M563,332.7 Q565,338 572,338 L585.4,338 L585.4,332.7" fill="none" stroke="#3a3a3a" stroke-width="0.9" />
<rect x="595.4" y="332.7" width="10.0" height="4.3" rx="0" fill="none" stroke="#3a3a3a" stroke-width="0.9"/>
<rect x="659" y="332" width="10" height="4" rx="0" fill="none" stroke="#3a3a3a" stroke-width="0.9"/>
<path d="M678,332.7 L678,338 L695,338 Q701,338 702,332.7" fill="none" stroke="#3a3a3a" stroke-width="0.9" />
<line x1="632.5" y1="208.8" x2="632.5" y2="337" stroke="#4a4a4a" stroke-width="0.7" stroke-dasharray="6,1.5,1,1.5"/>
<line x1="482.3" y1="225" x2="507.4" y2="225" stroke="#4a4a4a" stroke-width="0.7" />
<line x1="482.3" y1="280" x2="611.5" y2="280" stroke="#4a4a4a" stroke-width="0.7" />
<line x1="487.2" y1="225" x2="487.2" y2="280" stroke="#4a4a4a" stroke-width="0.8" />
<path d="M487.2,225.2 L485.59,232.2 L488.81,232.2 Z" fill="#2a2a2a" stroke="none"/>
<path d="M487.2,279.8 L485.59,272.8 L488.81,272.8 Z" fill="#2a2a2a" stroke="none"/>
<text x="484" y="252.25" font-size="17.5" text-anchor="middle" fill="#606060" transform="rotate(-90 484 252.25)" textLength="34.5" lengthAdjust="spacingAndGlyphs" >29±1</text>
<line x1="616" y1="368" x2="723" y2="368" stroke="#4a4a4a" stroke-width="0.7" />
<path d="M616.2,368 L623.2,366.39 L623.2,369.61 Z" fill="#2a2a2a" stroke="none"/>
<path d="M648.3,368 L641.3,366.39 L641.3,369.61 Z" fill="#2a2a2a" stroke="none"/>
<text x="689.75" y="365.5" font-size="17.5" text-anchor="middle" fill="#606060" textLength="61.5" lengthAdjust="spacingAndGlyphs" >16.5±0.3</text>
<defs>
<linearGradient id="gBody" x1="0" x2="1" y1="0" y2="0">
 <stop offset="0" stop-color="#c2ccc8"/><stop offset="0.12" stop-color="#cdd6d2"/><stop offset="0.6" stop-color="#d0d9d5"/><stop offset="0.85" stop-color="#d4dcd8"/><stop offset="1" stop-color="#c4ceca"/></linearGradient>
<linearGradient id="gEar" x1="0" x2="1" y1="0" y2="0">
 <stop offset="0" stop-color="#b9c2be"/><stop offset="0.55" stop-color="#a3aca8"/><stop offset="0.8" stop-color="#838b89"/><stop offset="1" stop-color="#6f7775"/></linearGradient>
<linearGradient id="gBlack" x1="0" x2="1" y1="0" y2="0">
 <stop offset="0" stop-color="#151922"/><stop offset="0.55" stop-color="#1b2029"/><stop offset="0.78" stop-color="#2b303a"/><stop offset="1" stop-color="#161a21"/></linearGradient>
<linearGradient id="gTop" x1="0" x2="1" y1="0" y2="1">
 <stop offset="0" stop-color="#e0e6e3"/><stop offset="1" stop-color="#d2dad6"/></linearGradient>
<radialGradient id="gBolt" cx="0.4" cy="0.45" r="0.65">
 <stop offset="0" stop-color="#e6eef6"/><stop offset="0.45" stop-color="#a8bdd2"/><stop offset="1" stop-color="#5d7188"/></radialGradient>
<linearGradient id="gBoltS" x1="0" x2="1" y1="0" y2="0">
 <stop offset="0" stop-color="#8ea5bb"/><stop offset="0.3" stop-color="#c4d4e3"/><stop offset="0.55" stop-color="#6f89a3"/><stop offset="0.8" stop-color="#9fb4c8"/><stop offset="1" stop-color="#7a90a6"/></linearGradient>
</defs>
<polygon points="926,145 974,146 976,164 978.5,380 979,396 953,394 950,190 949,155" fill="url(#gBlack)" stroke="none" stroke-width="0" />
<polyline points="952,200 962,238 954,292 962,338 955,378" fill="none" stroke="#454b58" stroke-width="0.7"/>
<polygon points="978.2,164 989.4,164 990.2,372.9 978.5,372.9" fill="#cfd8d4" stroke="none" stroke-width="0" />
<polygon points="978.2,164 984.2,164 984.5,372.9 978.5,372.9" fill="#8a9494" stroke="none" stroke-width="0" />
<polygon points="989.4,164 993.9,165 994,375 990.2,373" fill="#12161a" stroke="none" stroke-width="0" />
<polygon points="992,165 1004,167 1005.8,375 994,375 993.9,166" fill="#d3dbd7" stroke="none" stroke-width="0" />
<polygon points="993.9,166 996.9,166.5 997,375 994,375" fill="#707a7a" stroke="none" stroke-width="0" />
<polygon points="970.8,150 978,150 978.5,380 971,380" fill="#2c3a4a" stroke="none" stroke-width="0" opacity="0.45"/>
<path d="M977.6,380.5 L991.6,380.5 L991.6,390 Q991.6,396 985,396.5 L962,399 Q955,399 953,394 L978,392 Z" fill="#b9c3bf" />
<polygon points="953,392 978.5,391 979,395.5 962,398" fill="#1a1e26" stroke="none" stroke-width="0" />
<path d="M869.5,176 Q869.5,169.5 876,169.5 L900,172 L914,181 L876,179 L876.5,398 Q871,392 870.5,378 Z" fill="#d6ddda" />
<polygon points="869.5,250 876,250 876.2,318 870,318" fill="#b7c1bd" stroke="none" stroke-width="0" />
<polygon points="821.1,268.3 824.2,266.5 876.5,251 877,254.8 821.7,269.5" fill="#e2e8e5" stroke="none" stroke-width="0" />
<polygon points="821.7,269.5 876.5,254.8 877.7,301.5 831,315.7 821.7,313.8" fill="url(#gEar)" stroke="none" stroke-width="0" />
<polygon points="821.7,269.5 829,267.8 831,315.7 821.7,313.8" fill="#cdd6d2" stroke="none" stroke-width="0" />
<ellipse cx="848.8" cy="287.4" rx="9" ry="10.8" fill="#8f9794"/>
<ellipse cx="846.8" cy="286.8" rx="6.8" ry="9.4" fill="#f4f6f5"/>
<polygon points="876,171 914,174 940,176 950,178 950,191 876,181" fill="#cfd7d3" stroke="none" stroke-width="0" />
<polygon points="939.7,189 945.4,190 947.5,391 943.4,392" fill="#5a6064" stroke="none" stroke-width="0" />
<path d="M945.4,196 Q945.4,190 948,190.5 Q950.7,191 950.7,196 L952.5,390 L947.5,391 Z" fill="#d0dad6" />
<path d="M875.4,178.9 L939.7,188.4 L943.4,394 Q943,401.5 935,401.5 L890,400 Q876.5,398 876,385 Z" fill="url(#gBody)" />
<polygon points="875.4,178.9 939.7,188.4 939.7,193 875.4,184" fill="#bfc9c5" stroke="none" stroke-width="0" />
<path d="M918,190 L932,191.5 L935,399 L921,399.5 Z" fill="#d8e0dc" opacity="0.5"/>
<polygon points="894.5,397.3 902,396 942.7,401.5 954,398.7 954.6,411.3 942.7,417 895,403" fill="#a7b1ad" stroke="none" stroke-width="0" />
<polygon points="942.7,401.5 954,398.7 954.6,411.3 942.7,417" fill="#c9d1cd" stroke="none" stroke-width="0" />
<polygon points="894.5,397.3 902,396 942.7,401.5 942.7,405 897,400" fill="#d0d8d4" stroke="none" stroke-width="0" />
<polygon points="946,389 953,392 953,398 946,399" fill="#1a1e26" stroke="none" stroke-width="0" />
<path d="M876.2,186 L876.5,385 Q877,399 890,400.2 L935,401.5" fill="none" stroke="#a9b3af" stroke-width="0.8"/>
<polygon points="881.6,159 909.2,164.2 909.2,170.2 881.6,165.7" fill="#d3dbd7" stroke="none" stroke-width="0" />
<path d="M882.4,167.2 Q885,166 890,168 L909,173 Q911,175.5 908,176 L888,172 Q882,170 882.4,167.2 Z" fill="#1e2227" />
<polygon points="896,170.5 909.5,173.5 909.5,177 896,174" fill="#d0d8d4" stroke="none" stroke-width="0" />
<polygon points="865.2,150.8 916.7,144.1 943.5,149.3 949,153 912,162.7 866,154.5" fill="url(#gTop)" stroke="none" stroke-width="0" />
<polygon points="866,151.8 912,160.2 912,163.2 866,154.5" fill="#b9c3bf" stroke="none" stroke-width="0" />
<path d="M911,162.7 L946,152 Q951,153.5 951.5,158 L952.5,174.6 L916.7,181.4 Z" fill="#cdd5d1" />
<polygon points="912,165 951.8,158.5 951.9,161 912.5,167.5" fill="#e2e8e5" stroke="none" stroke-width="0" />
<polygon points="915.5,178 952.3,171.5 952.5,174.6 916.7,181.4" fill="#b4bebA" stroke="none" stroke-width="0" />
<polygon points="918,144 940.5,139 971.8,147 968,148.5 940,142.5 924,146" fill="#bfc9c5" stroke="none" stroke-width="0" />
<polygon points="916.7,137.4 943.5,130 964,127.5 1003,134.4 1009,140.4 971.8,147 940.5,139 918,144" fill="url(#gTop)" stroke="none" stroke-width="0" />
<path d="M971.8,147 L1006,140.5 Q1010.6,142 1010.6,148 L1010.6,158.2 L977.8,165 Q976,152 971.8,147 Z" fill="#cbd3cf" />
<polygon points="975,150.5 1010.3,145 1010.4,147.5 975.8,153" fill="#e0e6e3" stroke="none" stroke-width="0" />
<polygon points="977.3,162 1010.6,155.5 1010.6,158.2 977.8,165" fill="#b4bebA" stroke="none" stroke-width="0" />
<circle cx="886.3" cy="203.7" r="12.8" fill="url(#gBolt)" stroke="#6e7e8c" stroke-width="0.6"/>
<polygon points="895.5,207.6 887.5,213.6 878.3,209.7 877.1,199.8 885.1,193.8 894.3,197.7" fill="#b9cadb" stroke="#6f8499" stroke-width="0.7" />
<circle cx="884.3" cy="201.7" r="4.4799999999999995" fill="#e8f0f7" opacity="0.7"/>
<circle cx="891" cy="377" r="12.3" fill="url(#gBolt)" stroke="#6e7e8c" stroke-width="0.6"/>
<polygon points="899.8,380.7 892.2,386.5 883.3,382.8 882.2,373.3 889.8,367.5 898.7,371.2" fill="#b9cadb" stroke="#6f8499" stroke-width="0.7" />
<circle cx="889" cy="375" r="4.305" fill="#e8f0f7" opacity="0.7"/>
<rect x="895.8" y="147.83599999999998" width="19.4" height="5.9639999999999995" rx="2.5" fill="url(#gBoltS)"/>
<rect x="897.74" y="139.6" width="15.52" height="8.804" rx="2" fill="url(#gBoltS)"/>
<rect x="903.172" y="140.1" width="4.656" height="7.8100000000000005" fill="#dce6ef" opacity="0.8"/>
<rect x="895.8" y="149.54" width="19.4" height="1" fill="#eef3f7" opacity="0.8"/>
<rect x="966.65" y="130.272" width="18.7" height="5.628" rx="2.5" fill="url(#gBoltS)"/>
<rect x="968.52" y="122.5" width="14.96" height="8.308" rx="2" fill="url(#gBoltS)"/>
<rect x="973.756" y="123.0" width="4.4879999999999995" height="7.370000000000001" fill="#dce6ef" opacity="0.8"/>
<rect x="966.65" y="131.88" width="18.7" height="1" fill="#eef3f7" opacity="0.8"/>
</svg>
</body></html>
